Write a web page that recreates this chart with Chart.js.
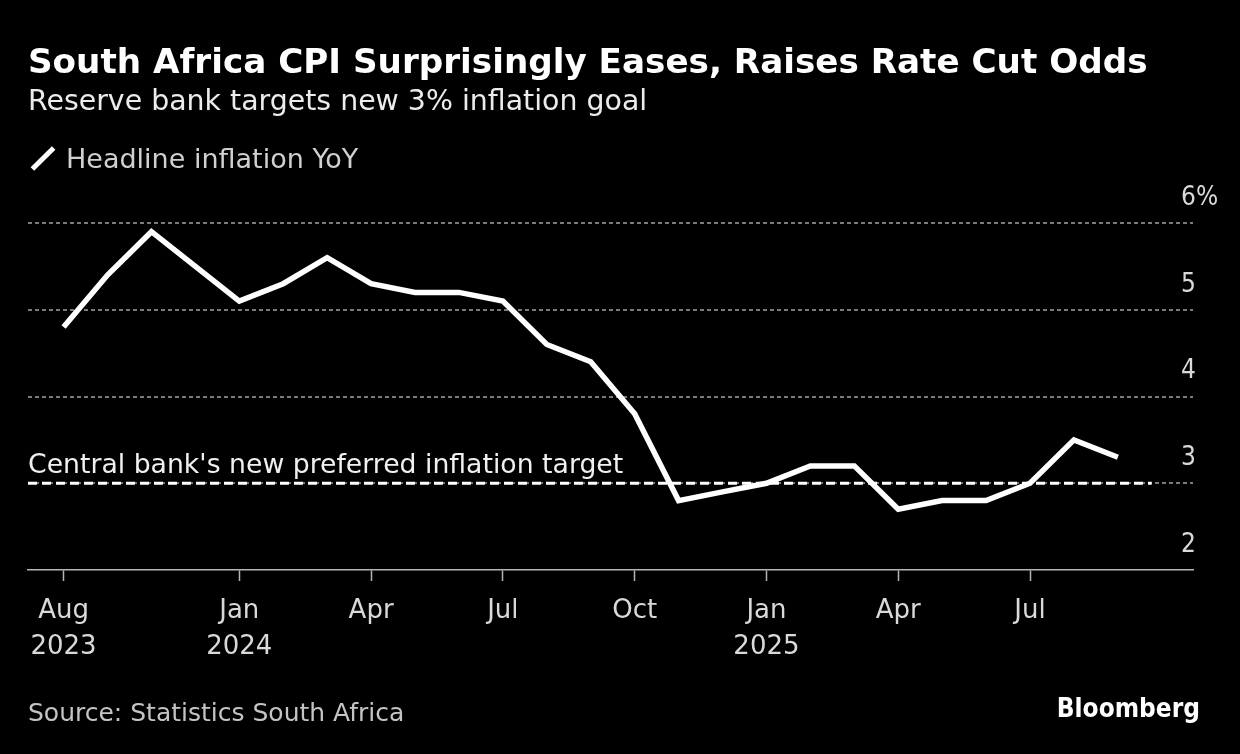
<!DOCTYPE html>
<html>
<head>
<meta charset="utf-8">
<script src="https://cdn.jsdelivr.net/npm/chart.js@4.4.1/dist/chart.umd.min.js"></script>
<style>
  html, body { margin: 0; padding: 0; background: #000; }
  body { width: 1240px; height: 754px; position: relative; overflow: hidden; font-family: "DejaVu Sans", sans-serif; }
  #chart { position: absolute; left: 0; top: 0; }
  .title { position: absolute; left: 28px; top: 41px; font-family: "DejaVu Sans", sans-serif; font-weight: bold; font-size: 34.2px; color: #fff; white-space: nowrap; line-height: 40px; }
  .subtitle { position: absolute; left: 28px; top: 83px; font-size: 28.4px; color: #ececec; white-space: nowrap; line-height: 36px; }
  .legend { position: absolute; left: 28px; top: 141px; font-size: 27px; color: #d0d0d0; white-space: nowrap; line-height: 36px; }
  .legend .swatch { position: absolute; left: 0px; top: 15px; width: 30px; height: 5px; background: #fff; transform: rotate(-45deg); }
  .legend .txt { position: absolute; left: 38px; top: 0; }
  .source { position: absolute; left: 28px; top: 695px; font-size: 25px; color: #c4c4c4; white-space: nowrap; line-height: 36px; }
  .brand { position: absolute; right: 40px; top: 690px; font-family: "DejaVu Sans Condensed", "DejaVu Sans", sans-serif; font-weight: bold; font-size: 26px; color: #fff; white-space: nowrap; line-height: 36px; }
</style>
</head>
<body>
<canvas id="chart" width="1240" height="754"></canvas>
<div class="title">South Africa CPI Surprisingly Eases, Raises Rate Cut Odds</div>
<div class="subtitle">Reserve bank targets new 3% inflation goal</div>
<div class="legend"><span class="swatch"></span><span class="txt">Headline inflation YoY</span></div>
<div class="source">Source: Statistics South Africa</div>
<div class="brand">Bloomberg</div>
<script>
// ---- data ----
const categories = [
  'Aug 2023','Sep 2023','Oct 2023','Nov 2023','Dec 2023',
  'Jan 2024','Feb 2024','Mar 2024','Apr 2024','May 2024','Jun 2024','Jul 2024',
  'Aug 2024','Sep 2024','Oct 2024','Nov 2024','Dec 2024',
  'Jan 2025','Feb 2025','Mar 2025','Apr 2025','May 2025','Jun 2025','Jul 2025','Aug 2025'
];
const headlineInflation = [
  4.8, 5.4, 5.9, 5.5, 5.1,
  5.3, 5.6, 5.3, 5.2, 5.2, 5.1, 4.6,
  4.4, 3.8, 2.8, 2.9, 3.0,
  3.2, 3.2, 2.7, 2.8, 2.8, 3.0, 3.5, 3.3
];
const seriesName = 'Headline inflation YoY';
const targetValue = 3;
const targetLabel = "Central bank's new preferred inflation target";
const targetEnd = 24.77;          // in category-index units
const xRange = [-0.81, 25.71];    // axis extent in category-index units
const xTickPositions = [0, 4, 7, 10, 13, 16, 19, 22];
const xTickLabels = [['Aug','2023'], ['Jan','2024'], ['Apr'], ['Jul'], ['Oct'], ['Jan','2025'], ['Apr'], ['Jul']];
const yTickValues = [2, 3, 4, 5, 6];
const yTickLabels = ['2', '3', '4', '5', '6%'];

// ---- chart ----
const FONT = '"DejaVu Sans", sans-serif';
const FONT_C = '"DejaVu Sans Condensed", "DejaVu Sans", sans-serif';

const targetAnnotation = {
  id: 'targetAnnotation',
  afterLayout(chart) {
    // let the right-axis labels extend into the plot area without being clipped
    chart.scales.y._computeLabelArea = () => undefined;
  },
  afterDatasetsDraw(chart) {
    const ctx = chart.ctx;
    const y = chart.scales.y.getPixelForValue(targetValue);
    ctx.save();
    ctx.font = '26.7px ' + FONT;
    ctx.fillStyle = '#f0f0f0';
    ctx.textAlign = 'left';
    ctx.textBaseline = 'alphabetic';
    ctx.fillText(targetLabel, chart.chartArea.left, y - 10);
    ctx.restore();
  }
};

new Chart(document.getElementById('chart'), {
  type: 'line',
  data: {
    datasets: [
      {
        label: seriesName,
        data: headlineInflation.map((v, i) => ({ x: i, y: v })),
        borderColor: '#ffffff',
        borderWidth: 5.5,
        pointRadius: 0,
        pointHoverRadius: 0,
        tension: 0,
        fill: false,
        order: 1
      },
      {
        label: 'target',
        data: [{ x: xRange[0], y: targetValue }, { x: targetEnd, y: targetValue }],
        borderColor: '#ffffff',
        borderWidth: 3,
        borderDash: [9, 5],
        pointRadius: 0,
        pointHoverRadius: 0,
        fill: false,
        order: 0
      }
    ]
  },
  options: {
    responsive: false,
    animation: false,
    devicePixelRatio: 1,
    events: [],
    layout: { padding: { left: 28, right: 0, top: 223, bottom: 0 } },
    plugins: {
      legend: { display: false },
      title: { display: false },
      tooltip: { enabled: false }
    },
    scales: {
      x: {
        type: 'linear',
        min: xRange[0],
        max: xRange[1],
        afterBuildTicks(scale) { scale.ticks = xTickPositions.map(v => ({ value: v })); },
        afterFit(scale) { scale.height = 184; },
        grid: { drawOnChartArea: false, drawTicks: true, tickLength: 11, tickColor: '#b5b5b5', tickWidth: 1.5, color: '#b5b5b5' },
        border: { display: true, color: '#b5b5b5', width: 1.5 },
        ticks: {
          autoSkip: false,
          maxRotation: 0,
          padding: 12,
          color: '#d9d9d9',
          font: { family: FONT, size: 26, lineHeight: 1.38 },
          callback(value) {
            const k = xTickPositions.indexOf(value);
            return k >= 0 ? xTickLabels[k] : '';
          }
        }
      },
      y: {
        position: 'right',
        min: 2,
        max: 6,
        afterBuildTicks(scale) { scale.ticks = yTickValues.map(v => ({ value: v })); },
        afterFit(scale) { scale.width = 47; },
        grid: {
          drawTicks: false,
          lineWidth: 2,
          color: (ctx) => (ctx.tick && ctx.tick.value === yTickValues[0]) ? 'rgba(0,0,0,0)' : '#7a7a7a'
        },
        border: { display: false, dash: [4, 3] },
        ticks: {
          padding: -12,
          labelOffset: -25,
          color: '#d9d9d9',
          font: { family: FONT_C, size: 26 },
          callback(value) {
            const k = yTickValues.indexOf(value);
            return k >= 0 ? yTickLabels[k] : '';
          }
        }
      }
    }
  },
  plugins: [targetAnnotation]
});
</script>
</body>
</html>
